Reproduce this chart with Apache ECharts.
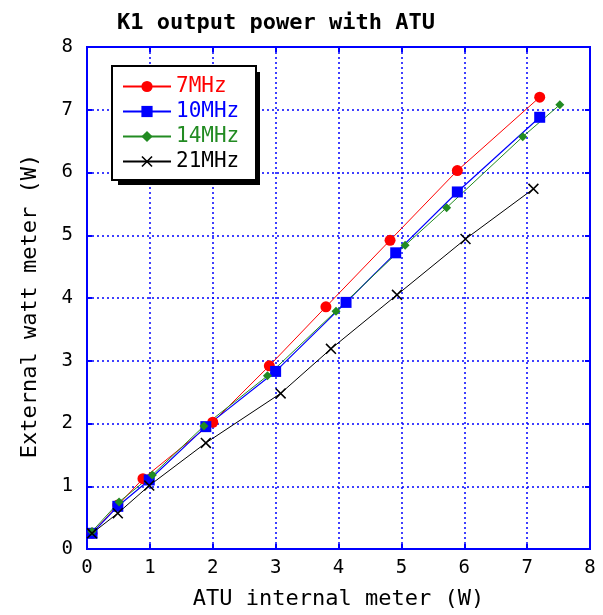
<!DOCTYPE html>
<html><head><meta charset="utf-8">
<script src="https://cdn.jsdelivr.net/npm/echarts@6/dist/echarts.min.js"></script>
<style>html,body{margin:0;padding:0;background:#fff}#c{width:603px;height:615px}</style>
</head><body><div id="c"></div>
<script>
const titleText = 'K1 output power with ATU';
const xName = 'ATU internal meter (W)';
const yName = 'External watt meter (W)';
const xTicks = [0,1,2,3,4,5,6,7,8];
const yTicks = [0,1,2,3,4,5,6,7,8];
const names = ['7MHz','10MHz','14MHz','21MHz'];
const mhz7 = [[0.08,0.25],[0.49,0.70],[0.89,1.12],[2.0,2.02],[2.9,2.92],[3.8,3.86],[4.82,4.92],[5.89,6.03],[7.2,7.2]];
const mhz10 = [[0.08,0.25],[0.49,0.68],[0.99,1.10],[1.89,1.95],[3.0,2.83],[4.12,3.93],[4.91,4.72],[5.89,5.69],[7.2,6.88]];
const mhz14 = [[0.08,0.28],[0.51,0.75],[1.04,1.18],[1.86,1.96],[2.87,2.76],[3.96,3.79],[5.06,4.84],[5.72,5.44],[6.93,6.57],[7.52,7.08]];
const mhz21 = [[0.08,0.25],[0.49,0.57],[0.99,1.01],[1.89,1.69],[3.08,2.48],[3.88,3.19],[4.93,4.05],[6.02,4.94],[7.1,5.74]];
const colors = ['#ff0000','#0000ff','#228b22','#000000'];
const FONT = 'DejaVu Sans Mono';
const blue = '#0000ff';
const crossPath = 'path://M0,1L1,0L10,9L9,10Z M9,0L10,1L1,10L0,9Z';

const chart = echarts.init(document.getElementById('c'), null, {renderer:'canvas'});
const axisCommon = {
  min: 0, max: 8, interval: 1,
  axisLine: {show:true, onZero:false, lineStyle:{color:blue, width:2}},
  axisTick: {show:true, inside:true, length:5, lineStyle:{color:blue, width:2}},
};
chart.setOption({
  animation:false,
  backgroundColor:'#fff',
  title:{text:titleText, left:112, top:7, textStyle:{fontFamily:FONT, fontWeight:'bold', fontSize:22, color:'#000'}},
  grid:{left:87, right:13, top:47, bottom:64, show:true, borderColor:blue, borderWidth:2},
  graphic:[{type:'rect', left:118, top:72, z:1, shape:{width:142, height:113}, style:{fill:'#000'}}],
  legend:{
    orient:'vertical', left:112, top:66, z:10,
    backgroundColor:'#fff', borderColor:'#000', borderWidth:2,
    padding:[10,10,8,10], itemGap:4, itemWidth:48, itemHeight:14,
    textStyle:{fontFamily:FONT, fontSize:21, lineHeight:20, width:70},
    data: names.map((n,i)=>({name:n, textStyle:{color:colors[i]}}))
  },
  xAxis:[
    Object.assign({type:'value', position:'bottom', name:xName, nameLocation:'middle', nameGap:39,
      nameTextStyle:{fontFamily:FONT, fontSize:22, color:'#000'},
      axisLabel:{fontFamily:FONT, fontSize:19, color:'#000', margin:10, formatter:v=>xTicks.includes(v)?String(v):''},
      splitLine:{show:true, lineStyle:{color:blue, type:[2,3], width:1.5}}}, axisCommon),
    Object.assign({type:'value', position:'top', axisLabel:{show:false}, splitLine:{show:false}}, axisCommon)
  ],
  yAxis:[
    Object.assign({type:'value', position:'left', name:yName, nameLocation:'middle', nameGap:46,
      nameTextStyle:{fontFamily:FONT, fontSize:22, color:'#000', padding:[0,16,0,0]},
      axisLabel:{fontFamily:FONT, fontSize:19, color:'#000', margin:14, formatter:v=>yTicks.includes(v)?String(v):''},
      splitLine:{show:true, lineStyle:{color:blue, type:[2,3], width:1.5}}}, axisCommon),
    Object.assign({type:'value', position:'right', axisLabel:{show:false}, splitLine:{show:false}}, axisCommon)
  ],
  series:[
    {name:names[0], type:'line', data:mhz7, symbol:'circle', symbolSize:11, itemStyle:{color:colors[0]}, lineStyle:{color:colors[0], width:1}},
    {name:names[1], type:'line', data:mhz10, symbol:'rect', symbolSize:11, itemStyle:{color:colors[1]}, lineStyle:{color:colors[1], width:1.2}},
    {name:names[2], type:'line', data:mhz14, symbol:'diamond', symbolSize:9, itemStyle:{color:colors[2]}, lineStyle:{color:colors[2], width:1}},
    {name:names[3], type:'line', data:mhz21, symbol:crossPath, symbolSize:11, itemStyle:{color:colors[3]}, lineStyle:{color:colors[3], width:1}}
  ]
});
</script></body></html>
